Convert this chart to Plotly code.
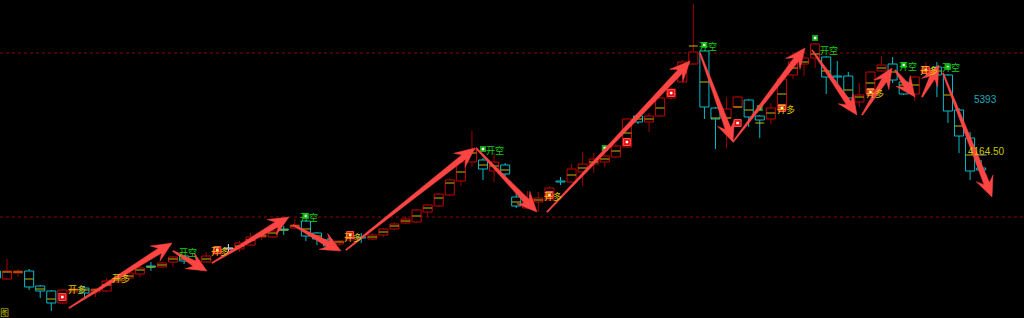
import numpy as np
import plotly.graph_objects as go

# ---------------- data (price units of the chart) ----------------
opens  = [47, 39, 45, 47, 32, 27, 15, 26, 30, 26, 27, 36, 40, 44, 52, 51, 56, 62, 54, 56,
          64, 69.5, 69, 73, 81, 81, 89, 90, 97, 85, 78, 74, 78, 81, 79, 83, 89, 95, 96, 106,
          112, 123, 137, 156, 158, 147, 153, 121, 110, 116, 118, 137, 136, 146, 154, 156, 161, 171, 202, 196,
          202, 220, 236, 254, 267, 210, 200, 211, 218, 202, 199, 208, 243, 254, 260, 261, 242, 242, 216, 225,
          247, 254, 236, 224, 245, 251, 243, 208, 180, 150]
closes = [40, 47, 47, 31, 27, 15, 28, 29, 25, 29, 37, 40, 45, 50, 51, 55, 61, 57, 57, 62,
          68, 69, 75, 81, 83, 87, 88, 93, 82, 79, 72, 77, 82, 80, 83, 89, 94, 99, 108, 113,
          124, 138, 156, 168, 149, 156, 144, 112, 119, 120, 130, 136, 149, 154, 159, 162, 172, 199, 196, 202,
          220, 229, 256, 266, 211, 199, 209, 221, 201, 198, 210, 239, 256, 260, 274, 241, 241, 220, 223, 246,
          253, 238, 224, 241, 249, 243, 207, 182, 147, 148]
highs  = [49, 59, 49, 49, 33, 28, 29, 31, 32, 30, 40, 42, 46, 52, 56, 56, 62, 63, 58, 66,
          70, 74, 77, 85, 86, 89, 92, 99, 98, 86, 80, 78, 84, 85, 85, 90, 96, 101, 109, 114,
          125, 140, 162, 187, 160, 165, 155, 125, 127, 126, 132, 141, 154, 166, 165, 164, 174, 200, 203, 205,
          221, 231, 258, 314, 268, 211, 221, 222, 219, 203, 215, 240, 257, 262, 275, 262, 257, 246, 235, 247,
          262, 261, 237, 242, 256, 256, 244, 210, 186, 158]
lows   = [38, 38, 41, 28, 20, 7, 14, 24, 21, 21, 26, 35, 39, 41, 47, 50, 51, 54, 53, 55,
          62, 65, 66, 72, 78, 80, 83, 89, 77, 73, 70, 72, 77, 75, 78, 81, 88, 94, 95, 101,
          111, 122, 132, 151, 138, 136, 142, 110, 109, 106, 117, 133, 135, 132, 145, 151, 160, 170, 194, 186,
          201, 219, 235, 253, 199, 169, 170, 210, 191, 180, 194, 207, 239, 242, 250, 224, 229, 219, 211, 224,
          246, 235, 223, 217, 244, 221, 195, 165, 138, 146]
yellow = [None, 46, 46, 39, 29, 19, None, 28, 28, 28, 33, 38, 42, 48, 51, 53, 59, 59, 56, 59,
          66, None, 72, 78, 82, 85, 88, 92, 89, 82, 75, 76, 80, None, 81, 86, 92, 97, 102, 110,
          120, 135, 146, 165, 153, 152, 148, 116, 115, 118, 123, None, 143, 150, 156, 159, 167, 185, 199, 199,
          210, 224, 246, 272, 236, 200, 200, 211, 208, 195, 205, 224, 250, 256, 264, 247, None, 228, 221, 235,
          250, 246, 233, 233, 247, 247, 223, 192, 163, None]
white_doji = [21]

ref_levels = [265, 101]

arrow_from_x = [6.60, 15.99, 19.52, 26.84, 31.62, 43.37, 49.78, 63.60, 66.58, 73.72, 78.24, 81.22, 83.66, 85.55]
arrow_from_y = [10, 67, 55, 93, 68, 170, 106, 265, 176, 268, 203, 248, 221, 245]
arrow_to_x   = [15.91, 19.07, 26.47, 31.17, 43.28, 48.88, 62.70, 66.58, 73.09, 77.78, 80.95, 83.02, 85.19, 89.98]
arrow_to_y   = [75, 47, 101, 67, 170, 106, 257, 176, 270, 203, 250, 221, 253, 121]

long_text_x = [6.33, 10.30, 19.25, 31.26, 49.33, 70.38, 78.42, 83.29]
long_text_y = [29, 40, 67, 81, 122, 209, 225, 248]
short_text_x = [16.36, 27.29, 44.09, 63.33, 74.26, 81.40, 85.28]
short_text_y = [66, 101, 168, 272, 268, 252, 251]
red_mark_idx = [6, 20, 32, 50, 57, 61, 67, 71, 79, 84]
red_mark_y = [21, 68, 83, 123, 176, 225, 195, 210, 226, 248]
green_mark_idx = [28, 44, 55, 64, 69, 74, 82, 86]
green_mark_y = [102, 169, 170, 273, 210, 280, 253, 251]
price_label_text = ["5393", "4164.50"]
price_label_x = [88.17, 87.63]
price_label_y = [219, 167]

# ---------------- styling ----------------
W, H = 1024, 318
XR = [0.3677, 92.87]
YR = [0, 318]
PX = W / (XR[1] - XR[0])
RED, RED_WICK, CYAN, WHITE = "#c80000", "#a00000", "#00bcc8", "#e0e0e0"
YEL = "#c8b800"
ARROW = "#ff4444"

o = np.array(opens, float); c = np.array(closes, float)
h = np.array(highs, float); l = np.array(lows, float)
N = len(o)
xi = np.arange(N)
body_lo = np.minimum(o, c); body_hi = np.maximum(o, c)
body_h = np.maximum(body_hi - body_lo, 1.0)
kind = []
for i in range(N):
    if i in white_doji:
        kind.append("w")
    elif c[i] > o[i]:
        kind.append("r")
    else:
        kind.append("c")
edge = [{"r": RED, "c": CYAN, "w": WHITE}[k] for k in kind]

fig = go.Figure()
fig.add_bar(x=xi, y=body_h, base=body_lo, width=0.82,
            marker=dict(color="#000000", line=dict(color=edge, width=1)),
            hoverinfo="skip")

for k, col in (("r", RED_WICK), ("c", CYAN), ("w", WHITE)):
    wx, wy = [], []
    for i in range(N):
        if kind[i] != k:
            continue
        top = body_lo[i] + body_h[i]
        if h[i] > top:
            wx += [i, i, None]; wy += [h[i], top, None]
        if l[i] < body_lo[i]:
            wx += [i, i, None]; wy += [body_lo[i], l[i], None]
    fig.add_scatter(x=wx, y=wy, mode="lines", line=dict(color=col, width=1),
                    hoverinfo="skip")

yx, yy = [], []
for i in range(N):
    if yellow[i] is None:
        continue
    yx += [i - 0.4, i + 0.4, None]; yy += [yellow[i], yellow[i], None]
fig.add_scatter(x=yx, y=yy, mode="lines", line=dict(color=YEL, width=1), hoverinfo="skip")

# last price tick
fig.add_scatter(x=[N - 2 + 0.4, N - 2 + 1.5], y=[yellow[N - 2]] * 2, mode="lines",
                line=dict(color="#a0a0a0", width=1), hoverinfo="skip")

# ---------------- signal markers ----------------
fig.add_scatter(x=red_mark_idx, y=red_mark_y, mode="markers",
                marker=dict(symbol="square", size=7, color="#e01010",
                            line=dict(color="#ff5050", width=1)), hoverinfo="skip")
fig.add_scatter(x=red_mark_idx, y=red_mark_y, mode="markers",
                marker=dict(symbol="square", size=2.5, color="#ffffff"), hoverinfo="skip")
fig.add_scatter(x=green_mark_idx, y=green_mark_y, mode="markers",
                marker=dict(symbol="square", size=6, color="#10a010"), hoverinfo="skip")
fig.add_scatter(x=green_mark_idx, y=green_mark_y, mode="markers",
                marker=dict(symbol="square", size=2.5, color="#ffffff"), hoverinfo="skip")

# ---------------- arrows (tapered polygons) ----------------
ax, ay = [], []
for x0, y0, x1, y1 in zip(arrow_from_x, arrow_from_y, arrow_to_x, arrow_to_y):
    p0 = np.array([(x0 - XR[0]) * PX, y0]); p1 = np.array([(x1 - XR[0]) * PX, y1])
    d = p1 - p0; L = np.hypot(*d); u = d / L; n = np.array([-u[1], u[0]])
    hl = min(20.0, L * 0.6); inner = hl * 0.72; hw = 9.0
    pts = [p0 + n * 0.6, p1 - u * inner + n * 2.9, p1 - u * hl + n * hw, p1,
           p1 - u * hl - n * hw, p1 - u * inner - n * 2.9, p0 - n * 0.6, p0 + n * 0.6]
    for p in pts:
        ax.append(p[0] / PX + XR[0]); ay.append(p[1])
    ax.append(None); ay.append(None)
fig.add_scatter(x=ax, y=ay, mode="lines", fill="toself", fillcolor=ARROW,
                line=dict(color=ARROW, width=0.5), hoverinfo="skip")

CJK = "Noto Sans CJK SC"
ann = []
for x, y in zip(long_text_x, long_text_y):
    ann.append(dict(x=x, y=y, text="开多", showarrow=False, xanchor="left", yanchor="middle",
                    font=dict(family=CJK, size=9, color="#d8c400")))
for x, y in zip(short_text_x, short_text_y):
    ann.append(dict(x=x, y=y, text="开空", showarrow=False, xanchor="left", yanchor="middle",
                    font=dict(family=CJK, size=9, color="#10d010")))
for t, x, y, col in zip(price_label_text, price_label_x, price_label_y, ["#20a8b8", "#c8c800"]):
    ann.append(dict(x=x, y=y, text=t, showarrow=False, xanchor="left", yanchor="middle",
                    font=dict(family="Liberation Sans", size=10, color=col)))
ann.append(dict(xref="paper", yref="paper", x=0, y=0, text="图", showarrow=False,
                xanchor="left", yanchor="bottom", xshift=-2, yshift=-3,
                font=dict(family=CJK, size=9, color="#c8c000")))

shapes = [dict(type="line", xref="paper", x0=0, x1=1, yref="y", y0=v, y1=v,
               line=dict(color="#900000", width=1, dash="dot"), layer="below")
          for v in ref_levels]

fig.update_layout(
    width=W, height=H, margin=dict(l=0, r=0, t=0, b=0),
    paper_bgcolor="#000000", plot_bgcolor="#000000",
    showlegend=False, annotations=ann, shapes=shapes,
    xaxis=dict(range=XR, visible=False, fixedrange=True),
    yaxis=dict(range=YR, visible=False, fixedrange=True),
    hovermode=False,
)
fig.write_html("out.html", config=dict(displayModeBar=False))
